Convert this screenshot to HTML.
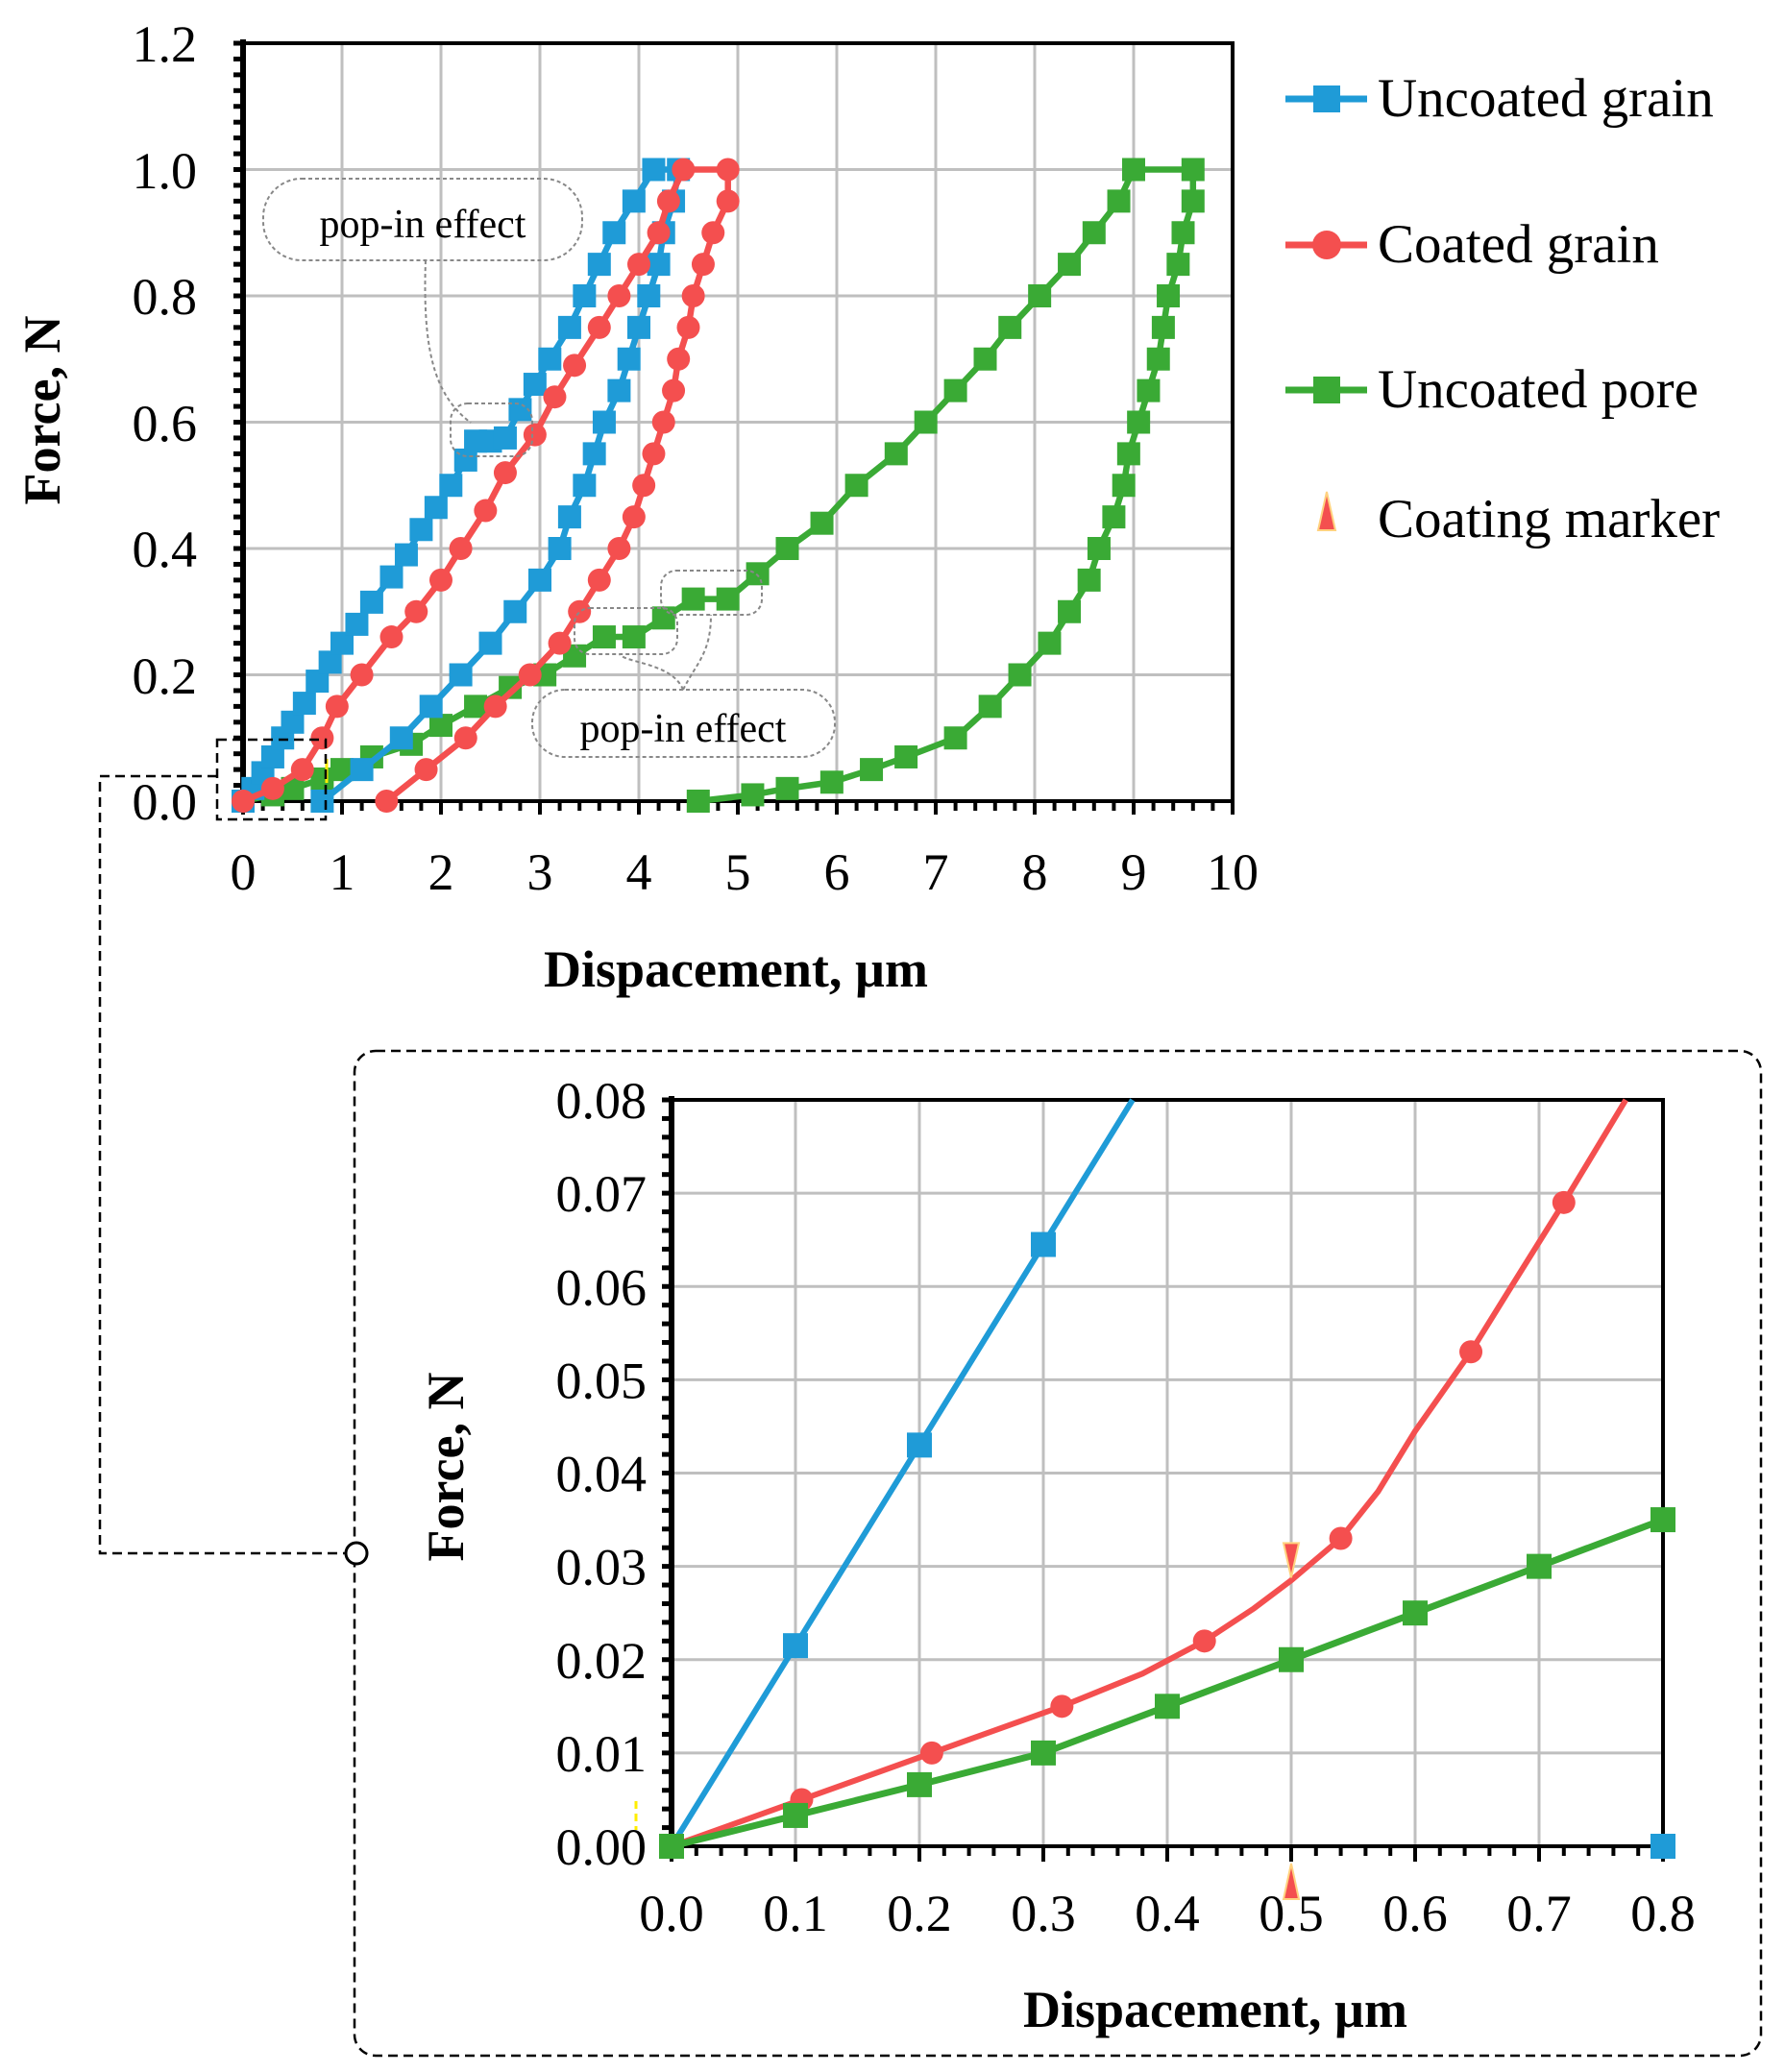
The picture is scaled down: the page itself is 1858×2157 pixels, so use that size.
<!DOCTYPE html>
<html><head><meta charset="utf-8"><style>
html,body{margin:0;padding:0;background:#fff}
svg{display:block}
text{font-family:"Liberation Serif",serif;fill:#000}
</style></head><body>
<svg id="s" width="1858" height="2157" viewBox="0 0 1858 2157" xmlns="http://www.w3.org/2000/svg">
<rect width="1858" height="2157" fill="#fff"/>
<g id="g"></g>
<g font-size="54" text-anchor="end">
<text x="205" y="64">1.2</text><text x="205" y="196">1.0</text><text x="205" y="327">0.8</text>
<text x="205" y="459">0.6</text><text x="205" y="590">0.4</text><text x="205" y="722">0.2</text><text x="205" y="853">0.0</text>
</g>
<g font-size="54" text-anchor="middle" id="mx"></g>
<text x="766" y="1027" font-size="54" font-weight="bold" text-anchor="middle">Dispacement, µm</text>
<text transform="translate(62,427) rotate(-90)" font-size="54" font-weight="bold" text-anchor="middle">Force, N</text>
<g font-size="57">
<text x="1434" y="121">Uncoated grain</text>
<text x="1434" y="273">Coated grain</text>
<text x="1434" y="424">Uncoated pore</text>
<text x="1434" y="559">Coating marker</text>
</g>
<g fill="none" stroke="#888" stroke-width="2" stroke-dasharray="4,3">
<rect x="274" y="186" width="332" height="85" rx="40"/>
<rect x="469" y="420" width="85" height="55" rx="18"/>
<path d="M443 271 C440 360,450 410,490 440"/>
<rect x="554" y="718" width="315" height="70" rx="34"/>
<rect x="598" y="633" width="107" height="48" rx="16"/>
<rect x="688" y="594" width="105" height="46" rx="16"/>
<path d="M711 718 C700 690,650 690,645 681 M711 718 C725 690,740 680,740 640"/>
</g>
<text x="440" y="247" font-size="42" text-anchor="middle">pop-in effect</text>
<text x="711" y="772" font-size="42" text-anchor="middle">pop-in effect</text>
<g fill="none" stroke="#000" stroke-width="2.5" stroke-dasharray="10,6">
<rect x="226" y="770" width="113" height="83"/>
<path d="M226 808 H104 V1617 H362"/>
<rect x="369" y="1094" width="1464" height="1046" rx="22"/>
</g>
<circle cx="371" cy="1617" r="11" fill="#fff" stroke="#000" stroke-width="3"/>
<g font-size="54" text-anchor="end" id="iy"></g>
<g font-size="54" text-anchor="middle" id="ix"></g>
<text x="1265" y="2110" font-size="54" font-weight="bold" text-anchor="middle">Dispacement, µm</text>
<text transform="translate(482,1527) rotate(-90)" font-size="54" font-weight="bold" text-anchor="middle">Force, N</text>
</svg>
<script>
var NS="http://www.w3.org/2000/svg",G=document.getElementById('g');
function el(t,a,p){var e=document.createElementNS(NS,t);for(var k in a)e.setAttribute(k,a[k]);(p||G).appendChild(e);return e;}
function tx(p,x,y,s){var e=el('text',{x:x,y:y},document.getElementById(p));e.textContent=s;}
var BL='#1f9bd7',RD='#f44f4f',GR='#3aaa35';
var X0=253,X1=1283,Y0=834,Y1=45;
function mx(v){return X0+(X1-X0)*v/10}function my(v){return Y0-(Y0-Y1)*v/1.2}
for(var i=1;i<=10;i++)el('line',{x1:mx(i),x2:mx(i),y1:Y1,y2:Y0,stroke:'#bfbfbf','stroke-width':3});
for(var i=1;i<=6;i++)el('line',{x1:X0,x2:X1,y1:my(i*0.2),y2:my(i*0.2),stroke:'#bfbfbf','stroke-width':3});
el('rect',{x:X0,y:Y1,width:X1-X0,height:Y0-Y1,fill:'none',stroke:'#000','stroke-width':4});
el('line',{x1:X0,x2:X0,y1:Y1-4,y2:Y0+4,stroke:'#000','stroke-width':6});
for(var v=0;v<=1.2001;v+=0.025)el('line',{x1:X0-10,x2:X0,y1:my(v),y2:my(v),stroke:'#000','stroke-width':5});
for(var v=0;v<=10.001;v+=0.2)el('line',{x1:mx(v),x2:mx(v),y1:Y0,y2:Y0+(Math.abs(v-Math.round(v))<0.01?14:10),stroke:'#000','stroke-width':4});
for(var i=0;i<=10;i++)tx('mx',mx(i),926,''+i);
var blue=[[0,0],[0.1,0.02],[0.2,0.045],[0.3,0.07],[0.4,0.1],[0.5,0.125],[0.62,0.155],[0.75,0.19],[0.88,0.22],[1.0,0.25],[1.15,0.28],[1.3,0.315],[1.5,0.355],[1.65,0.39],[1.8,0.43],[1.95,0.465],[2.1,0.5],[2.25,0.54],[2.35,0.57],[2.5,0.57],[2.65,0.575],[2.8,0.62],[2.95,0.66],[3.1,0.7],[3.3,0.75],[3.45,0.8],[3.6,0.85],[3.75,0.9],[3.95,0.95],[4.15,1.0],[4.4,1.0],[4.35,0.95],[4.25,0.9],[4.2,0.85],[4.1,0.8],[4.0,0.75],[3.9,0.7],[3.8,0.65],[3.65,0.6],[3.55,0.55],[3.45,0.5],[3.3,0.45],[3.2,0.4],[3.0,0.35],[2.75,0.3],[2.5,0.25],[2.2,0.2],[1.9,0.15],[1.6,0.1],[1.2,0.05],[0.8,0.0]];
var red=[[0,0],[0.3,0.02],[0.6,0.05],[0.8,0.1],[0.95,0.15],[1.2,0.2],[1.5,0.26],[1.75,0.3],[2.0,0.35],[2.2,0.4],[2.45,0.46],[2.65,0.52],[2.95,0.58],[3.15,0.64],[3.35,0.69],[3.6,0.75],[3.8,0.8],[4.0,0.85],[4.2,0.9],[4.3,0.95],[4.45,1.0],[4.9,1.0],[4.9,0.95],[4.75,0.9],[4.65,0.85],[4.55,0.8],[4.5,0.75],[4.4,0.7],[4.35,0.65],[4.25,0.6],[4.15,0.55],[4.05,0.5],[3.95,0.45],[3.8,0.4],[3.6,0.35],[3.4,0.3],[3.2,0.25],[2.9,0.2],[2.55,0.15],[2.25,0.1],[1.85,0.05],[1.45,0.0]];
var green=[[0,0],[0.3,0.01],[0.5,0.02],[0.8,0.035],[1.0,0.05],[1.3,0.07],[1.7,0.09],[2.0,0.12],[2.35,0.15],[2.7,0.18],[3.05,0.2],[3.35,0.23],[3.65,0.26],[3.95,0.26],[4.25,0.29],[4.55,0.32],[4.9,0.32],[5.2,0.36],[5.5,0.4],[5.85,0.44],[6.2,0.5],[6.6,0.55],[6.9,0.6],[7.2,0.65],[7.5,0.7],[7.75,0.75],[8.05,0.8],[8.35,0.85],[8.6,0.9],[8.85,0.95],[9.0,1.0],[9.6,1.0],[9.6,0.95],[9.5,0.9],[9.45,0.85],[9.35,0.8],[9.3,0.75],[9.25,0.7],[9.15,0.65],[9.05,0.6],[8.95,0.55],[8.9,0.5],[8.8,0.45],[8.65,0.4],[8.55,0.35],[8.35,0.3],[8.15,0.25],[7.85,0.2],[7.55,0.15],[7.2,0.1],[6.7,0.07],[6.35,0.05],[5.95,0.03],[5.5,0.02],[5.15,0.01],[4.6,0.0]];
function series(d,c,sq,fx,fy,sz,lw,marks){
 el('polyline',{points:d.map(function(p){return fx(p[0])+','+fy(p[1])}).join(' '),fill:'none',stroke:c,'stroke-width':lw,'stroke-linejoin':'round'});
 (marks||d).forEach(function(p){var x=fx(p[0]),y=fy(p[1]);
  if(sq)el('rect',{x:x-sz/2,y:y-sz/2,width:sz,height:sz,fill:c});else el('circle',{cx:x,cy:y,r:sz/2,fill:c});});
}
series(green,GR,1,mx,my,24,6.5);
series(blue,BL,1,mx,my,24,6.5);
series(red,RD,0,mx,my,24,6.5);
[[103,BL,1],[255,RD,0],[406,GR,1]].forEach(function(a){el('line',{x1:1338,x2:1423,y1:a[0],y2:a[0],stroke:a[1],'stroke-width':7});
 if(a[2])el('rect',{x:1367,y:a[0]-14,width:28,height:28,fill:a[1]});else el('circle',{cx:1381,cy:a[0],r:15,fill:a[1]});});
el('polygon',{points:'1381,512 1372,552 1390,552',fill:RD,stroke:'#ffd27f','stroke-width':2});
var A0=699,A1=1731,B0=1922,B1=1145;
function ix(v){return A0+(A1-A0)*v/0.8}function iy(v){return B0-(B0-B1)*v/0.08}
for(var i=1;i<=8;i++)el('line',{x1:ix(i/10),x2:ix(i/10),y1:B1,y2:B0,stroke:'#bfbfbf','stroke-width':3});
for(var i=1;i<=8;i++)el('line',{x1:A0,x2:A1,y1:iy(i/100),y2:iy(i/100),stroke:'#bfbfbf','stroke-width':3});
el('rect',{x:A0,y:B1,width:A1-A0,height:B0-B1,fill:'none',stroke:'#000','stroke-width':4});
el('line',{x1:A0,x2:A0,y1:B1-4,y2:B0+4,stroke:'#000','stroke-width':6});
for(var v=0;v<=0.08001;v+=0.002)el('line',{x1:A0-10,x2:A0,y1:iy(v),y2:iy(v),stroke:'#000','stroke-width':5});
for(var v=0;v<=0.8001;v+=0.02)el('line',{x1:ix(v),x2:ix(v),y1:B0,y2:B0+(Math.abs(v*10-Math.round(v*10))<0.01?16:10),stroke:'#000','stroke-width':4});
for(var i=0;i<=8;i++){tx('iy',673,iy(i/100)+19,'0.0'+i);tx('ix',ix(i/10),2010,'0.'+i);}
el('polyline',{points:[[0,0],[0.1,0.0215],[0.2,0.043],[0.3,0.0645],[0.372,0.08]].map(function(p){return ix(p[0])+','+iy(p[1])}).join(' '),fill:'none',stroke:BL,'stroke-width':6});
[[0.1,0.0215],[0.2,0.043],[0.3,0.0645],[0.8,0]].forEach(function(p){el('rect',{x:ix(p[0])-13,y:iy(p[1])-13,width:26,height:26,fill:BL});});
var rc=[[0,0],[0.105,0.005],[0.21,0.01],[0.315,0.015],[0.38,0.0185],[0.43,0.022],[0.47,0.0255],[0.5,0.0285],[0.54,0.033],[0.57,0.038],[0.6,0.0445],[0.645,0.053],[0.68,0.0605],[0.72,0.069],[0.77,0.08]];
series(rc,RD,0,ix,iy,24,6,[[0.105,0.005],[0.21,0.01],[0.315,0.015],[0.43,0.022],[0.54,0.033],[0.645,0.053],[0.72,0.069]]);
series([[0,0],[0.1,0.0033],[0.2,0.0066],[0.3,0.01],[0.4,0.015],[0.5,0.02],[0.6,0.025],[0.7,0.03],[0.8,0.035]],GR,1,ix,iy,26,7);
el('polygon',{points:ix(0.5)-8+','+(iy(0.0325))+' '+(ix(0.5)+8)+','+iy(0.0325)+' '+ix(0.5)+','+(iy(0.0325)+36),fill:RD,stroke:'#ffd27f','stroke-width':2});
el('polygon',{points:ix(0.5)-8+','+(B0+55)+' '+(ix(0.5)+8)+','+(B0+55)+' '+ix(0.5)+','+(B0+18),fill:RD,stroke:'#ffd27f','stroke-width':2});
el('line',{x1:662,x2:662,y1:1875,y2:1905,stroke:'#ffee00','stroke-width':3,'stroke-dasharray':'8,5'});
el('line',{x1:340,x2:340,y1:790,y2:815,stroke:'#ffee00','stroke-width':3});
</script>
</body></html>
